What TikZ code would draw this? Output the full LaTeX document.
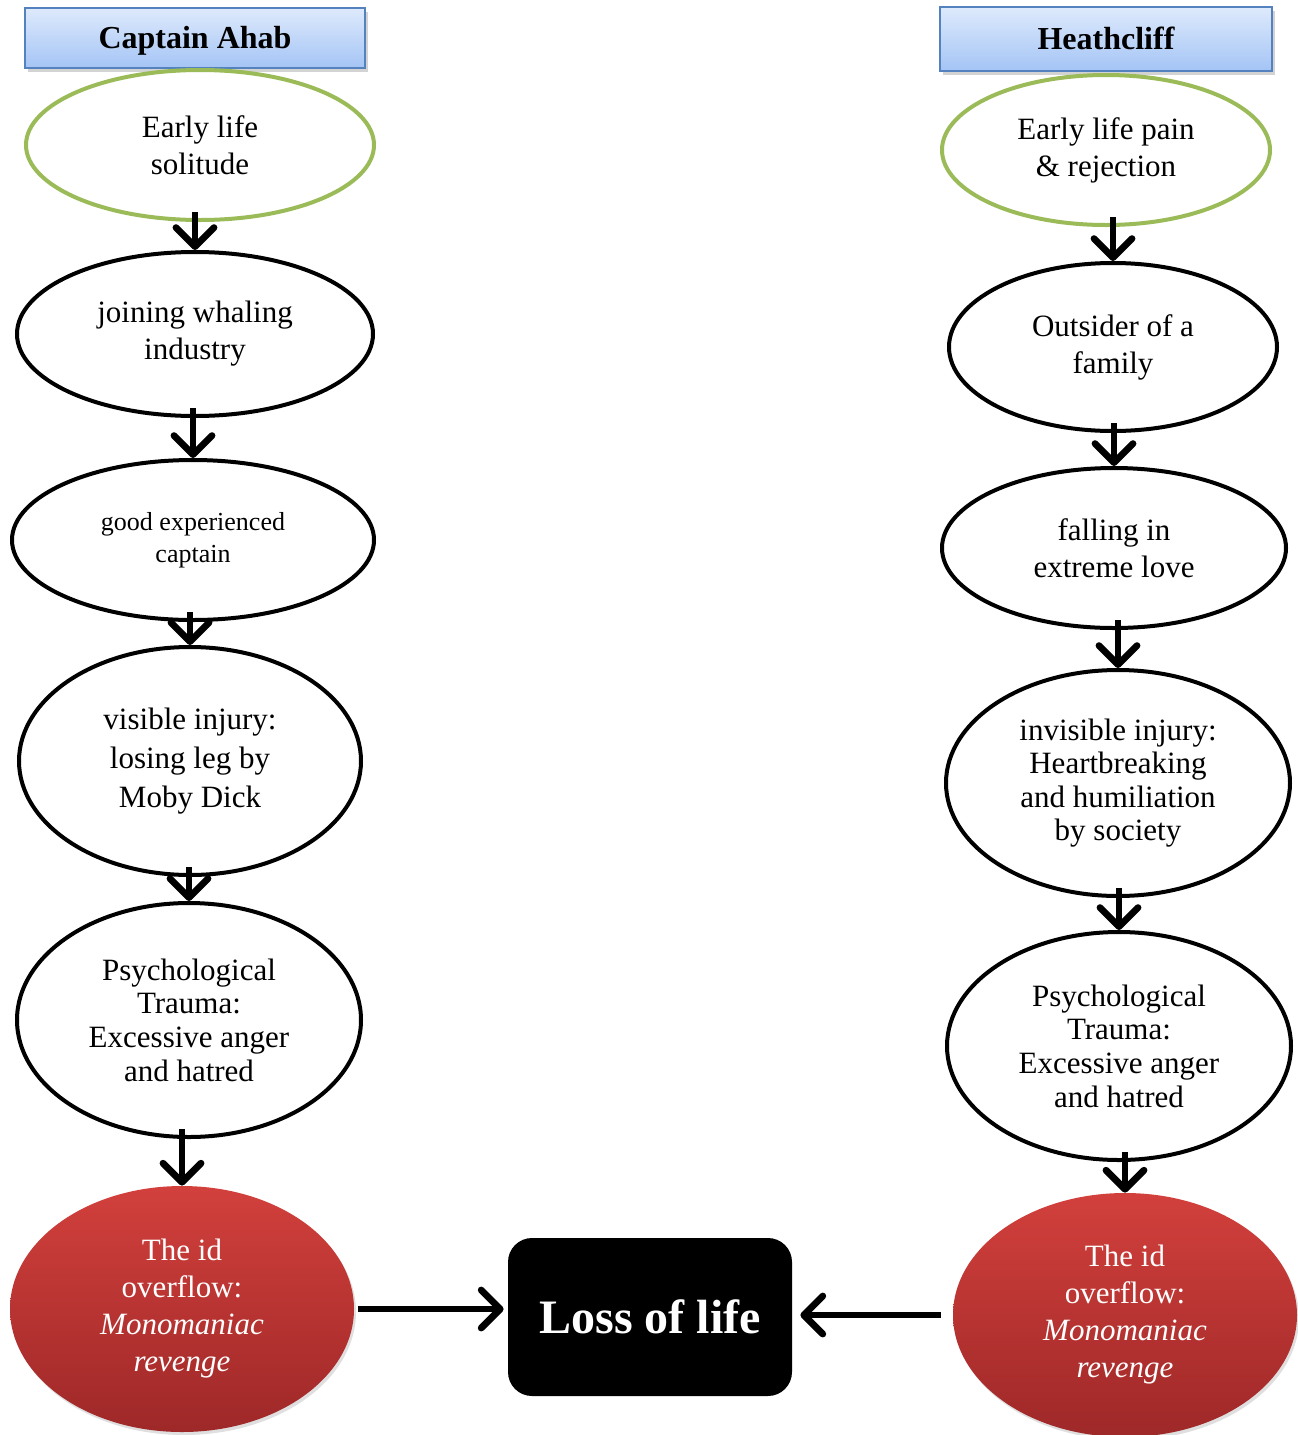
\documentclass[tikz,border=0pt]{standalone}
\usepackage{fontspec}
\setmainfont{Liberation Serif}
\usetikzlibrary{arrows.meta, shapes.geometric, shadows, positioning}

\definecolor{headtop}{RGB}{222,234,252}
\definecolor{headbot}{RGB}{164,196,245}
\definecolor{headline}{RGB}{84,130,190}
\definecolor{earlygreen}{RGB}{155,187,89}
\definecolor{idtop}{RGB}{210,64,60}
\definecolor{idbot}{RGB}{158,40,40}

\tikzset{
  head/.style={rectangle, draw=headline, line width=1pt, top color=headtop, bottom color=headbot,
    font=\bfseries\fontsize{16}{19}\selectfont,
    drop shadow={opacity=0.35, shadow xshift=1.5pt, shadow yshift=-2pt}},
  stage/.style={ellipse, draw, line width=2pt, align=center, inner sep=0pt,
    font=\fontsize{15.5}{18.5}\selectfont},
  early/.style={stage, draw=earlygreen},
  idnode/.style={ellipse, draw=none, top color=idtop, bottom color=idbot, text=white, align=center,
    inner sep=0pt, font=\fontsize{15.5}{18.5}\selectfont,
    drop shadow={opacity=0.25, shadow xshift=1pt, shadow yshift=-1.5pt}},
  loss/.style={rectangle, rounded corners=12pt, fill=black, text=white,
    font=\bfseries\fontsize{24}{28}\selectfont},
  flow/.style={-{Straight Barb[length=9.5pt, width=19pt, round]}, line width=3.4pt}
}

\begin{document}
\begin{tikzpicture}[x=0.5pt, y=-0.5pt]
        \useasboundingbox (0,0) rectangle (1297,1435);
        % Captain Ahab
        \node[head, minimum width=170pt, minimum height=30pt, text depth=1pt] (ahab) at (195,38) {Captain Ahab};
        \node[early, minimum width=174pt, minimum height=75pt] (l1) at (200,145) {Early life\\solitude};
        \node[stage, minimum width=178pt, minimum height=82pt] (l2) at (195,334) {joining whaling\\industry};
        \node[stage, minimum width=181pt, minimum height=80pt, font=\fontsize{13}{16}\selectfont] (l3) at (193,540) {good experienced\\captain};
        \node[stage, minimum width=171pt, minimum height=114pt, font=\fontsize{15.5}{19.5}\selectfont] (l4) at (190,761) {visible injury:\\losing leg by\\Moby Dick};
        \node[stage, minimum width=172pt, minimum height=117pt, font=\fontsize{15.5}{16.8}\selectfont] (l5) at (189,1020) {Psychological\\Trauma:\\Excessive anger\\and hatred};
        \node[idnode, minimum width=172pt, minimum height=123pt] (l6) at (182,1309) {The id\\overflow:\\\textit{Monomaniac}\\\textit{revenge}};
        % Heathcliff
        \node[head, minimum width=166pt, minimum height=32pt, text depth=1pt] (heath) at (1106,39) {Heathcliff};
        \node[early, minimum width=164pt, minimum height=75pt] (r1) at (1106,150) {Early life pain\\\& rejection};
        \node[stage, minimum width=164pt, minimum height=84pt] (r2) at (1113,347) {Outsider of a\\family};
        \node[stage, minimum width=172pt, minimum height=80pt] (r3) at (1114,548) {falling in\\extreme love};
        \node[stage, minimum width=172pt, minimum height=113pt, font=\fontsize{15.5}{16.8}\selectfont] (r4) at (1118,783) {invisible injury:\\Heartbreaking\\and humiliation\\by society};
        \node[stage, minimum width=172pt, minimum height=114pt, font=\fontsize{15.5}{16.8}\selectfont] (r5) at (1119,1046) {Psychological\\Trauma:\\Excessive anger\\and hatred};
        \node[idnode, minimum width=172pt, minimum height=122pt] (r6) at (1125,1315) {The id\\overflow:\\\textit{Monomaniac}\\\textit{revenge}};
        % outcome
        \node[loss, minimum width=142pt, minimum height=79pt] (end) at (650,1317) {Loss of life};

        \foreach \a/\b in {l1/l2, l2/l3, l3/l4, l4/l5, l5/l6, r1/r2, r2/r3, r3/r4, r4/r5, r5/r6}
          \draw[flow, shorten <=-5pt] (\b.north |- \a.south) -- (\b.north);
        \draw[flow, shorten <=2pt, shorten >=2pt] (l6.east) -- (l6.east -| end.west);
        \draw[flow, shorten <=6pt, shorten >=4pt] (r6.west) -- (r6.west -| end.east);
    \end{tikzpicture}
\end{document}
